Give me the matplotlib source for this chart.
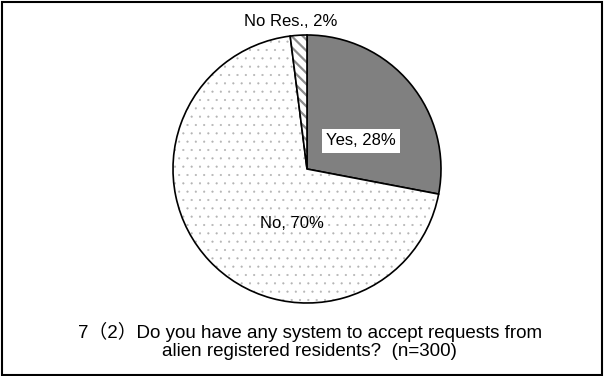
import matplotlib.pyplot as plt
from matplotlib.patches import Rectangle

labels = ['Yes', 'No', 'No Res.']
shares = [28, 70, 2]
title = '7\uff082\uff09Do you have any system to accept requests from\nalien registered residents?  (n=300)'

fig = plt.figure(figsize=(6.07, 3.76), dpi=100)

# outer frame
fig.patches.append(Rectangle((0.004, 0.003), 0.988, 0.992, transform=fig.transFigure,
                             fill=False, edgecolor='black', linewidth=1.5))

# pie centre ~ (307,169) px, radius ~134 px
ax = fig.add_axes([173 / 607, (376 - 303) / 376, 268 / 607, 268 / 376])
wedges, _ = ax.pie(shares, startangle=90, counterclock=False,
                   colors=['#808080', 'white', 'white'],
                   wedgeprops=dict(edgecolor='black', linewidth=1.2))
wedges[1].set_hatch('..')
wedges[2].set_hatch('\\\\\\')
# hatch colour / weight on the light slices
wedges[1]._hatch_color = (0.7, 0.7, 0.7, 1.0)
wedges[2]._hatch_color = (0.55, 0.55, 0.55, 1.0)
if hasattr(wedges[1], 'set_hatch_linewidth'):
    wedges[1].set_hatch_linewidth(0.3)
    wedges[2].set_hatch_linewidth(1.6)
ax.set_xlim(-1, 1)
ax.set_ylim(-1, 1)
ax.set_aspect('equal')

font = ['Liberation Sans', 'Noto Sans CJK JP']
ax.text(0.40, 0.21, '%s, %d%%' % (labels[0], shares[0]), ha='center', va='center',
        fontsize=12, family=font,
        bbox=dict(facecolor='white', edgecolor='none', pad=3))
ax.text(-0.11, -0.41, '%s, %d%%' % (labels[1], shares[1]), ha='center', va='center',
        fontsize=12, family=font)
ax.text(-0.12, 1.10, '%s, %d%%' % (labels[2], shares[2]), ha='center', va='center',
        fontsize=12, family=font, clip_on=False)

fig.text(0.51, (376 - 341) / 376, title, ha='center', va='center', fontsize=13.5,
         family=font, linespacing=1.1)

fig.savefig('out.png', dpi=100)
